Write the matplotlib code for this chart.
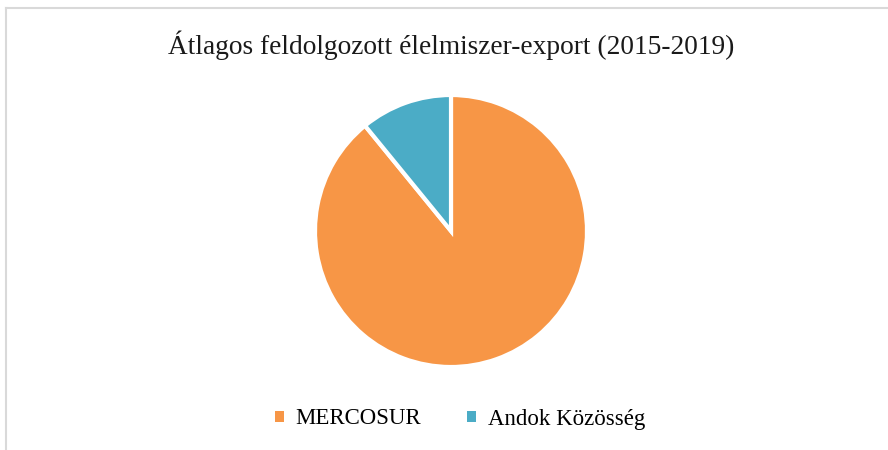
import matplotlib.pyplot as plt
from matplotlib.lines import Line2D
from matplotlib.patches import Rectangle

labels = ["MERCOSUR", "Andok Közösség"]
values = [89.1, 10.9]
colors = ["#F79646", "#4BACC6"]
title = "Átlagos feldolgozott élelmiszer-export (2015-2019)"

plt.rcParams['font.family'] = ['Liberation Serif', 'DejaVu Serif']

fig = plt.figure(figsize=(8.88, 4.5), dpi=100)
fig.patch.set_facecolor("white")

# chart frame (only left/top edges visible)
fig.add_artist(Line2D([5.5/888, 5.5/888], [0, 1 - 8/450], transform=fig.transFigure,
                      color="#D9D9D9", lw=1.5))
fig.add_artist(Line2D([5.5/888, 1], [1 - 8/450, 1 - 8/450], transform=fig.transFigure,
                      color="#D9D9D9", lw=1.5))

ax = fig.add_axes([315/888, 1 - 367/450, 272/888, 272/450])
ax.pie(values, colors=colors, startangle=90, counterclock=False,
       wedgeprops=dict(edgecolor="white", linewidth=3))
ax.set_xlim(-1.0, 1.0)
ax.set_ylim(-1.0, 1.0)
ax.set_aspect("equal")

fig.text(451/888, 1 - 45/450, title, ha="center", va="center", fontsize=19.7, color="#1a1a1a")

handles = [Rectangle((0, 0), 1, 1, facecolor=c, edgecolor="none") for c in colors]
fig.legend(handles, labels, loc="center", bbox_to_anchor=(460/888, 1 - 419/450),
           ncol=2, frameon=False, fontsize=16.5, handlelength=0.4, handleheight=0.4,
           handletextpad=0.5, columnspacing=2.0)

fig.savefig("out.png", dpi=100)
